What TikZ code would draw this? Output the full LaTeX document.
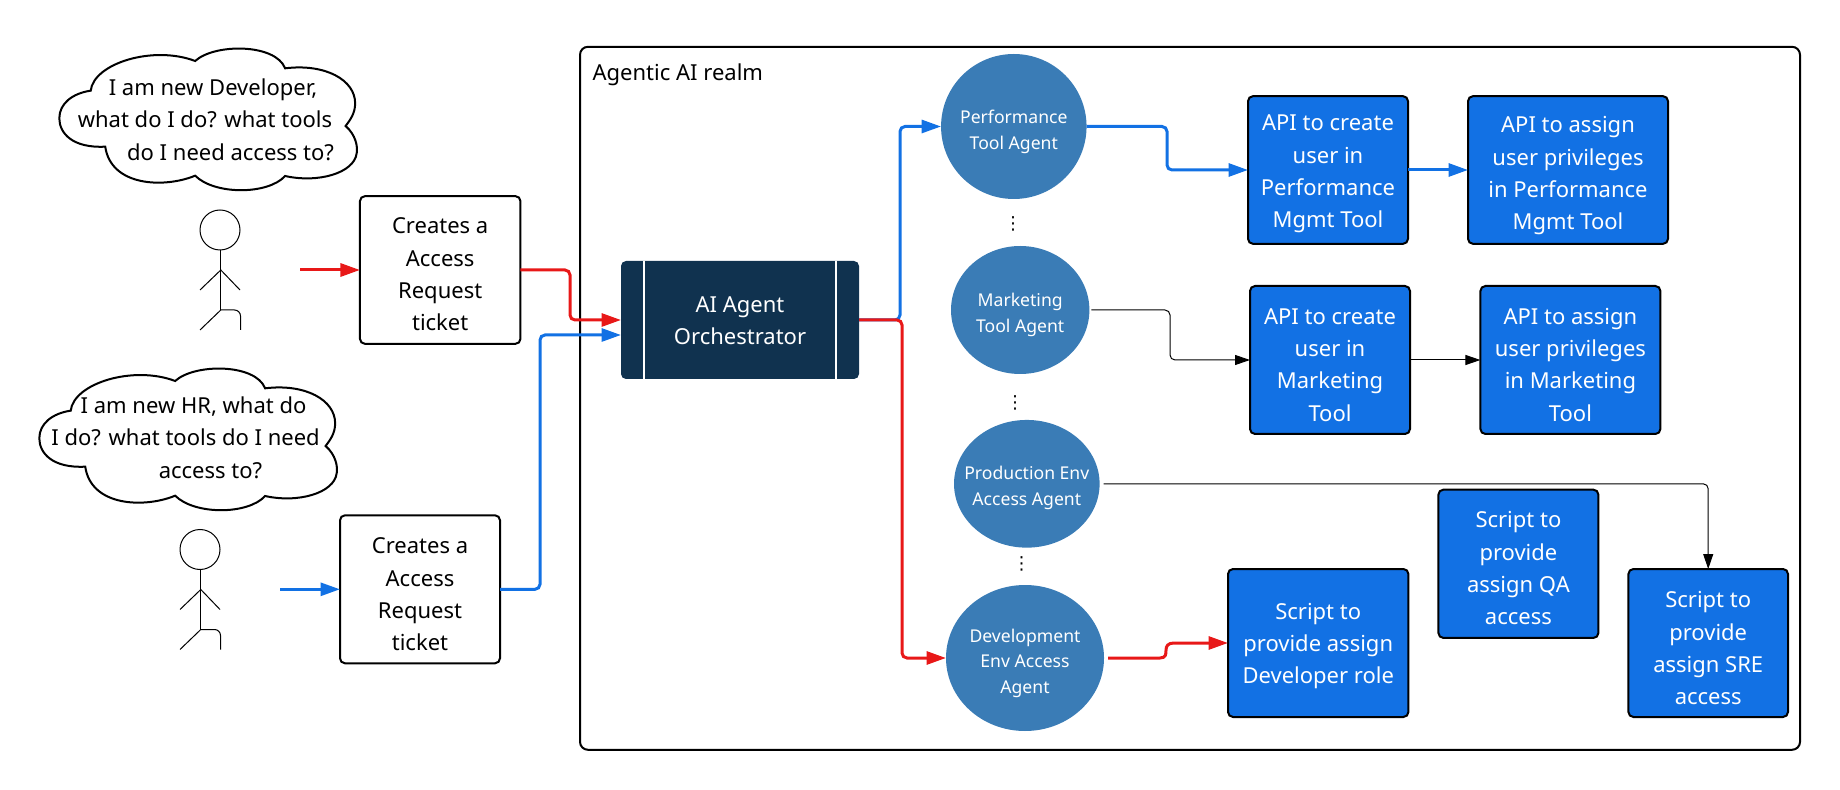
\documentclass[tikz,border=0pt]{standalone}
\usepackage{fontspec}
\setmainfont{Noto Sans}
\newfontfamily\symfont{DejaVu Sans}
\usetikzlibrary{arrows.meta,shapes.geometric,calc}
\definecolor{cblue}{HTML}{1271E4}
\definecolor{ccirc}{HTML}{3A7CB6}
\definecolor{cnavy}{HTML}{10324F}
\definecolor{cred}{HTML}{E81818}
\tikzset{
 x=0.5pt,y=-0.5pt,
 size/.style 2 args={minimum width=#1*0.5pt,minimum height=#2*0.5pt},
 base/.style={inner sep=0pt,outer sep=0pt,align=center},
 big/.style={font=\fontsize{11}{16.15}\selectfont},
 small/.style={font=\fontsize{8.8}{12.85}\selectfont},
 white box/.style={base,draw=black,line width=1pt,rounded corners=2.5pt,fill=white},
 blue box/.style={base,draw=black,line width=1pt,rounded corners=2.5pt,fill=cblue},
 navy box/.style={base,fill=cnavy,rounded corners=2.5pt},
 agent/.style={base,ellipse,fill=ccirc},
 dark text/.style={base,big,text=black,yshift=-#1},
 light text/.style={base,big,text=white,yshift=-#1},
 agent text/.style={base,small,text=white,yshift=-#1},
 line/.style={base,big,anchor=base},
 vdots/.style={base,font=\symfont\fontsize{9}{9}\selectfont},
 stick/.style={draw=black,line width=0.5pt},
 cloudline/.style={draw=black,line width=1pt,fill=white},
 thick red/.style={draw=cred,line width=1.5pt,rounded corners=2.5pt,-{Triangle[length=9.75pt,width=6.5pt]}},
 thick blue/.style={draw=cblue,line width=1.5pt,rounded corners=2.5pt,-{Triangle[length=9.75pt,width=6.5pt]}},
 thin black/.style={draw=black,line width=0.5pt,rounded corners=2.5pt,-{Triangle[length=7.5pt,width=5pt]}},
}
\newcommand{\cloudshape}{
 (237,272) .. controls (245,190) and (400,135) .. (510,183)
 .. controls (560,130) and (720,130) .. (745,205)
 .. controls (850,190) and (928,240) .. (928,310)
 .. controls (928,340) and (915,360) .. (903,378)
 .. controls (930,405) and (935,440) .. (932,460)
 .. controls (925,520) and (830,550) .. (745,528)
 .. controls (700,585) and (560,585) .. (510,527)
 .. controls (430,565) and (290,560) .. (275,440)
 .. controls (190,445) and (155,400) .. (155,355)
 .. controls (155,310) and (190,280) .. (237,272) -- cycle
}
\newcommand{\person}{
 \draw[stick] (220,230) circle (20);
 \draw[stick] (220.8,250) -- (220.8,310);
 \draw[stick] (200,290) -- (220.8,270) -- (240,290);
 \draw[stick] (200,330) -- (220.8,310);
 \draw[stick,rounded corners=3pt] (220.8,310) -- (240.5,310) -- (240.5,330);
}
\begin{document}
\begin{tikzpicture}
\useasboundingbox (0,0) rectangle (1840,790);
% clouds
\begin{scope}[xscale=0.38270,yscale=0.33333]
 \draw[cloudline] \cloudshape;
\end{scope}
\begin{scope}[shift={(-20,320)},xscale=0.38270,yscale=0.33333]
 \draw[cloudline] \cloudshape;
\end{scope}
\node[line] (c1a) at (213,95.5) {I am new Developer,};
\node[line] (c1b) at (205,128) {what do I do? what tools};
\node[line] (c1c) at (230.6,160.5) {do I need access to?};
\node[line] (c2a) at (193.5,413.5) {I am new HR, what do};
\node[line] (c2b) at (185.6,446) {I do? what tools do I need};
\node[line] (c2c) at (210.5,478.3) {access to?};
% persons
\person
\begin{scope}[shift={(-20,319.5)}]\person\end{scope}
% realm
\node[base,draw=black,line width=1pt,rounded corners=4pt,size={1220}{703}] (realm) at (1190,398.3) {};
\node[line,anchor=base west] (realmlabel) at (592.6,81) {Agentic AI realm};
% ticket boxes
\coordinate (s1) at (300,270);
\coordinate (s2) at (280,589.3);
\node[white box,size={160.5}{147.7},label={[dark text=2.2pt]center:{Creates a\\Access\\Request\\ticket}}] (t1) at (440.2,270) {};
\node[white box,size={160}{148},label={[dark text=2.6pt]center:{Creates a\\Access\\Request\\ticket}}] (t2) at (420,589.3) {};
% orchestrator
\node[navy box,size={238}{118},label={[light text=0.25pt]center:{AI Agent\\Orchestrator}}] (orch) at (740,320) {};
\draw[white,line width=1pt] ($(orch.north west)+(22.7,0)$) -- ($(orch.south west)+(22.7,0)$);
\draw[white,line width=1pt] ($(orch.north east)+(-23,0)$) -- ($(orch.south east)+(-23,0)$);
% agents
\node[agent,size={145.5}{145},label={[agent text=2.65pt]center:{Performance\\Tool Agent}}] (perf) at (1013.8,126.5) {};
\node[agent,size={138.4}{128},label={[agent text=2.4pt]center:{Marketing\\Tool Agent}}] (mkt) at (1020.2,310) {};
\node[agent,size={145.6}{127.7},label={[agent text=1.9pt]center:{Production Env\\Access Agent}}] (prod) at (1026.8,483.8) {};
\node[agent,size={158}{146},label={[agent text=2.7pt]center:{Development\\Env Access\\Agent}}] (dev) at (1025,658) {};
\node[vdots] (d1) at (1013,224) {⋮};
\node[vdots] (d2) at (1015,403) {⋮};
\node[vdots] (d3) at (1021.7,564) {⋮};
% tool boxes
\node[blue box,size={160}{147.7},label={[light text=2pt]center:{API to create\\user in\\Performance\\Mgmt Tool}}] (a1) at (1328,170) {};
\node[blue box,size={200}{147.7},label={[light text=2.9pt]center:{API to assign\\user privileges\\in Performance\\Mgmt Tool}}] (a2) at (1568,170) {};
\node[blue box,size={160}{148},label={[light text=2.4pt]center:{API to create\\user in\\Marketing\\Tool}}] (m1) at (1330,360) {};
\node[blue box,size={180}{148},label={[light text=2.4pt]center:{API to assign\\user privileges\\in Marketing\\Tool}}] (m2) at (1570.4,360) {};
\node[blue box,size={160}{148.3},label={[light text=2.3pt]center:{Script to\\provide\\assign QA\\access}}] (qa) at (1518.4,563.8) {};
\node[blue box,size={159.6}{148},label={[light text=2.6pt]center:{Script to\\provide\\assign SRE\\access}}] (sre) at (1708.2,643) {};
\node[blue box,size={180.4}{148},label={[light text=1.45pt]center:{Script to\\provide assign\\Developer role}}] (devb) at (1318.2,643) {};
% connectors
\draw[thick red] (s1) -- (t1.west);
\draw[thick blue] (s2) -- (t2.west);
\draw[thick red] (t1.east) -- (570,270) -- (570,320) -- (orch.west);
\draw[thick blue] (t2.east) -- (540,589.3) -- (540,335) -- ([yshift=-7.5pt]orch.west);
\draw[thick blue] (orch.east) -- (900,320) -- (900,126.5) -- (perf.west);
\draw[thick red] (orch.east) -- (902,320) -- (902,658) -- (dev.west);
\draw[thick blue] (perf.east) -- (1167,126.5) -- (1167,170) -- (a1.west);
\draw[thick blue] (a1.east) -- (a2.west);
\draw[thin black] ([xshift=1]mkt.east) -- (1170,310) -- (1170,360) -- (m1.west);
\draw[thin black] (m1.east) -- (m2.west);
\draw[thin black] ([xshift=2]prod.east) -- (1708.2,483.8) -- (sre.north);
\draw[thick red,sharp corners] ([xshift=2]dev.east) -- (1160,658) .. controls (1166,658) and (1166,654) .. (1166,650) .. controls (1166,646) and (1168,643) .. (1174,643) -- (devb.west);
\end{tikzpicture}
\end{document}
